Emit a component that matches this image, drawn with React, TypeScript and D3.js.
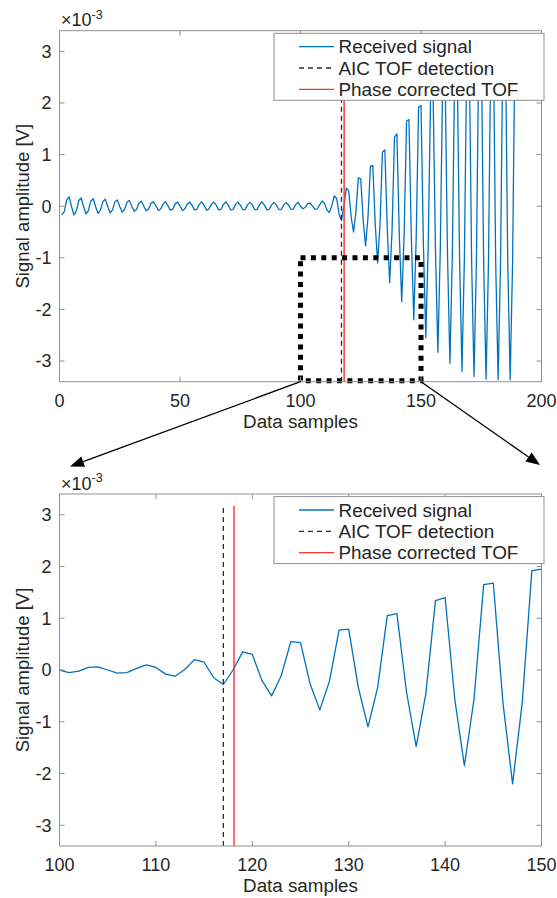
import React from 'react';
import * as d3 from 'd3';

// Received ultrasonic signal, amplitude in 1e-3 V, one value per data sample (first sample = 1)
const SIGNAL_START = 1;
const SIGNAL: number[] = [
  // 1-10
  -0.17, -0.10, 0.12, 0.18, -0.01, -0.17, -0.09, 0.11, 0.16, -0.01,
  // 11-20
  -0.15, -0.085, 0.10, 0.145, -0.01, -0.14, -0.075, 0.09, 0.135, -0.005,
  // 21-30
  -0.13, -0.07, 0.085, 0.12, -0.005, -0.115, -0.065, 0.075, 0.11, 0.0,
  // 31-40
  -0.10, -0.06, 0.065, 0.095, 0.0, -0.09, -0.055, 0.06, 0.085, 0.01,
  // 41-50
  -0.08, -0.055, 0.04, 0.085, 0.01, -0.075, -0.06, 0.045, 0.08, 0.005,
  // 51-60
  -0.08, -0.055, 0.04, 0.08, 0.015, -0.07, -0.06, 0.035, 0.085, 0.015,
  // 61-70
  -0.075, -0.055, 0.035, 0.08, 0.02, -0.07, -0.06, 0.03, 0.085, 0.02,
  // 71-80
  -0.07, -0.065, 0.03, 0.08, 0.02, -0.065, -0.065, 0.025, 0.075, 0.025,
  // 81-90
  -0.065, -0.065, 0.03, 0.085, 0.02, -0.07, -0.06, 0.025, 0.075, 0.02,
  // 91-100
  -0.06, -0.065, 0.02, 0.07, 0.025, -0.055, -0.06, 0.03, 0.075, 0.0,
  // 101-110
  -0.05, -0.02, 0.05, 0.06, 0.0, -0.06, -0.05, 0.03, 0.10, 0.05,
  // 111-120
  -0.08, -0.12, 0.01, 0.20, 0.15, -0.15, -0.28, 0.0, 0.35, 0.30,
  // 121-130
  -0.20, -0.50, -0.11, 0.55, 0.53, -0.27, -0.77, -0.22, 0.77, 0.79,
  // 131-140
  -0.34, -1.10, -0.34, 1.05, 1.09, -0.43, -1.48, -0.46, 1.34, 1.40,
  // 141-150
  -0.56, -1.85, -0.56, 1.65, 1.68, -0.63, -2.20, -0.63, 1.92, 1.95,
  // 151-160
  -0.75, -2.55, -0.75, 2.20, 2.25, -0.85, -2.83, -0.85, 2.50, 2.55,
  // 161-170
  -0.95, -3.04, -0.95, 2.75, 2.80, -1.00, -3.20, -1.00, 2.98, 3.02,
  // 171-180
  -1.05, -3.30, -1.05, 3.15, 3.18, -1.10, -3.35, -1.10, 3.24, 3.26,
  // 181-189
  -1.10, -3.36, -1.10, 3.28, 3.29, -1.10, -3.36, -1.10, 3.30,
];

// Time-of-flight estimates (sample index) and the vertical extent of their markers
const AIC_TOF = 117;
const PHASE_TOF = 118.1;
const TOF_LINE_SPAN = [-3.4, 3.17];

const Y_DOMAIN = [-3.4, 3.4];
const Y_TICKS = [-3, -2, -1, 0, 1, 2, 3];
const FULL_X_DOMAIN = [0, 200];
const FULL_X_TICKS = [0, 50, 100, 150, 200];
const ZOOM_X_DOMAIN = [100, 150];
const ZOOM_X_TICKS = [100, 110, 120, 130, 140, 150];
// Highlighted window in the full view: samples 100-150, amplitude -1 down to the axis floor
const ZOOM_Y_WINDOW = [-3.4, -1];

const LEGEND_LABELS = ['Received signal', 'AIC TOF detection', 'Phase corrected TOF'];

const FONT = '"Liberation Sans", Arial, Helvetica, sans-serif';
const TEXT = '#262626';
const AXIS = '#8f8f8f';
const BLUE = '#0072BD';
const RED = '#ff3030';
const DARK = '#2a2a2a';

const W = 557;
const H = 898;
const LEFT = 59.5;
const RIGHT = 541.5;

type PanelProps = {
  id: string;
  top: number;
  bottom: number;
  xDomain: number[];
  xTicks: number[];
  children?: (x: d3.ScaleLinear<number, number>, y: d3.ScaleLinear<number, number>) => React.ReactNode;
};

const points = SIGNAL.map((v, i) => [SIGNAL_START + i, v] as [number, number]);

function Panel({ id, top, bottom, xDomain, xTicks, children }: PanelProps) {
  const x = d3.scaleLinear().domain(xDomain).range([LEFT, RIGHT]);
  const y = d3.scaleLinear().domain(Y_DOMAIN).range([bottom, top]);
  const line = d3
    .line<[number, number]>()
    .x((d) => x(d[0]))
    .y((d) => y(d[1]));
  const tick = 5;
  const clipId = `clip-${id}`;
  const legendX = 274;
  const legendY = top + 2.6;
  const legendW = 270;
  const legendH = 67;
  const rowH = 21.3;

  return (
    <g>
      <defs>
        <clipPath id={clipId}>
          <rect x={LEFT} y={top} width={RIGHT - LEFT} height={bottom - top} />
        </clipPath>
      </defs>
      <rect x={LEFT} y={top} width={RIGHT - LEFT} height={bottom - top} fill="#fff" />

      {/* signal and TOF markers */}
      <g clipPath={`url(#${clipId})`}>
        <path d={line(points) || ''} fill="none" stroke={BLUE} strokeWidth={1.3} strokeLinejoin="round" />
        <line
          x1={x(AIC_TOF)} x2={x(AIC_TOF)} y1={y(TOF_LINE_SPAN[0])} y2={y(TOF_LINE_SPAN[1])}
          stroke={DARK} strokeWidth={1.3} strokeDasharray="5 4"
        />
        <line
          x1={x(PHASE_TOF)} x2={x(PHASE_TOF)} y1={y(TOF_LINE_SPAN[0])} y2={y(TOF_LINE_SPAN[1])}
          stroke={RED} strokeWidth={1.4}
        />
      </g>

      {children && children(x, y)}

      {/* axes box and ticks */}
      <rect x={LEFT} y={top} width={RIGHT - LEFT} height={bottom - top} fill="none" stroke={AXIS} strokeWidth={1} />
      {xTicks.map((t) => (
        <g key={`xt${t}`}>
          <line x1={x(t)} x2={x(t)} y1={bottom} y2={bottom - tick} stroke={AXIS} />
          <line x1={x(t)} x2={x(t)} y1={top} y2={top + tick} stroke={AXIS} />
          <text x={x(t)} y={bottom + 25} textAnchor="middle" fontSize={18} fill={TEXT} fontFamily={FONT}>
            {t}
          </text>
        </g>
      ))}
      {Y_TICKS.map((t) => (
        <g key={`yt${t}`}>
          <line x1={LEFT} x2={LEFT + tick} y1={y(t)} y2={y(t)} stroke={AXIS} />
          <line x1={RIGHT} x2={RIGHT - tick} y1={y(t)} y2={y(t)} stroke={AXIS} />
          <text x={LEFT - 8} y={y(t) + 6.3} textAnchor="end" fontSize={18} fill={TEXT} fontFamily={FONT}>
            {t}
          </text>
        </g>
      ))}

      {/* exponent */}
      <text x={61} y={top - 4.3} fontSize={18} fill={TEXT} fontFamily={FONT}>
        ×10
        <tspan fontSize={12.5} dy={-7.5}>-3</tspan>
      </text>

      {/* axis labels */}
      <text x={(LEFT + RIGHT) / 2} y={bottom + 46} textAnchor="middle" fontSize={18.8} fill={TEXT} fontFamily={FONT}>
        Data samples
      </text>
      <text
        transform={`translate(29,${(top + bottom) / 2}) rotate(-90)`}
        textAnchor="middle" fontSize={18.5} fill={TEXT} fontFamily={FONT}
      >
        Signal amplitude [V]
      </text>

      {/* legend */}
      <g>
        <rect x={legendX} y={legendY} width={legendW} height={legendH} fill="#fff" stroke={AXIS} strokeWidth={1} />
        {LEGEND_LABELS.map((label, i) => {
          const cy = legendY + 13.4 + i * rowH;
          return (
            <g key={label}>
              <line
                x1={299} x2={334} y1={cy} y2={cy}
                stroke={i === 0 ? BLUE : i === 1 ? DARK : RED}
                strokeWidth={1.3}
                strokeDasharray={i === 1 ? '5 4' : undefined}
              />
              <text x={338.5} y={cy + 6.5} fontSize={18.9} fill={TEXT} fontFamily={FONT}>
                {label}
              </text>
            </g>
          );
        })}
      </g>
    </g>
  );
}

function Arrow({ x1, y1, x2, y2 }: { x1: number; y1: number; x2: number; y2: number }) {
  const a = Math.atan2(y2 - y1, x2 - x1);
  const len = 14;
  const half = 5.5;
  const bx = x2 - len * Math.cos(a);
  const by = y2 - len * Math.sin(a);
  const px = -Math.sin(a) * half;
  const py = Math.cos(a) * half;
  return (
    <g>
      <line x1={x1} y1={y1} x2={bx} y2={by} stroke="#000" strokeWidth={1.3} />
      <polygon points={`${x2},${y2} ${bx + px},${by + py} ${bx - px},${by - py}`} fill="#000" />
    </g>
  );
}

export default function App() {
  const topPanel = { top: 30.7, bottom: 381.7 };
  const zoomPanel = { top: 494, bottom: 846 };
  const xFull = d3.scaleLinear().domain(FULL_X_DOMAIN).range([LEFT, RIGHT]);
  const yFull = d3.scaleLinear().domain(Y_DOMAIN).range([topPanel.bottom, topPanel.top]);
  const startY = yFull(ZOOM_Y_WINDOW[0]);

  return (
    <svg
      width={W}
      height={H}
      viewBox={`0 0 ${W} ${H}`}
      style={{ position: 'absolute', left: 0, top: 0, background: '#fff' }}
    >
      <rect width={W} height={H} fill="#fff" />
      <Panel id="full" top={topPanel.top} bottom={topPanel.bottom} xDomain={FULL_X_DOMAIN} xTicks={FULL_X_TICKS}>
        {(x, y) => (
          <rect
            x={x(ZOOM_X_DOMAIN[0])}
            y={y(ZOOM_Y_WINDOW[1])}
            width={x(ZOOM_X_DOMAIN[1]) - x(ZOOM_X_DOMAIN[0])}
            height={y(ZOOM_Y_WINDOW[0]) - y(ZOOM_Y_WINDOW[1]) - 1}
            fill="none"
            stroke="#000"
            strokeWidth={5}
            strokeDasharray="5 5.4"
          />
        )}
      </Panel>
      <Panel id="zoom" top={zoomPanel.top} bottom={zoomPanel.bottom} xDomain={ZOOM_X_DOMAIN} xTicks={ZOOM_X_TICKS} />
      <Arrow x1={xFull(ZOOM_X_DOMAIN[0])} y1={startY} x2={70} y2={466.5} />
      <Arrow x1={xFull(ZOOM_X_DOMAIN[1])} y1={startY} x2={540} y2={465} />
    </svg>
  );
}
